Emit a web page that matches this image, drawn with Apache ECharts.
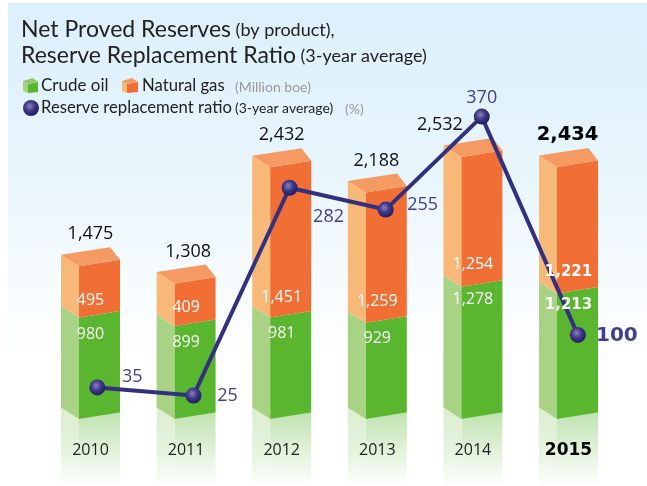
<!DOCTYPE html>
<html style="height: 100%">

<head>
	<meta charset="utf-8">
</head>

<body style="height: 100%; margin: 0; background: #fff">
	<div id="container" style="width: 647px; height: 486px"></div>
	<script type="text/javascript" src="https://cdn.jsdelivr.net/npm/echarts@6/dist/echarts.min.js"></script>
	<script type="text/javascript">
		let years = ['2010', '2011', '2012', '2013', '2014', '2015'];
		let crudeOil = [980, 899, 981, 929, 1278, 1213];
		let naturalGas = [495, 409, 1451, 1259, 1254, 1221];
		let replacementRatio = [35, 25, 282, 255, 370, 100];

		// label nudges, px, not data
		let ratioLabelOffset = [[35, -11], [34, 0], [39, 29], [37, -5], [0, -19], [39, 1]];
		let totalLabelShift = [0, 2, 0, -1, -33, -1];
		let oilLabelGap = [17, 16, 15.5, 16, 13, 12];
		let gasLabelGap = [17.5, 19, 20.5, 21, 22, 21];

		let fontName = 'Lato';
		let numFont = '"Open Sans"';
		let lineColor = '#33307f';
		let ratioText = '#423e91';
		let dy = 11.5, tilt = 6.5;

		let sphere = {
			type: 'radial', x: 0.42, y: 0.38, r: 0.62,
			colorStops: [
				{ offset: 0, color: '#8c83b8' },
				{ offset: 0.5, color: '#3f3888' },
				{ offset: 1, color: '#201c66' }
			]
		};

		function fade(color) {
			return {
				type: 'linear', x: 0, y: 0, x2: 0, y2: 1,
				colorStops: [
					{ offset: 0, color: color },
					{ offset: 0.6, color: '#e6f4e0' },
					{ offset: 1, color: '#ffffff' }
				]
			};
		}

		function poly(points, fill, z2) {
			return { type: 'polygon', z2: z2 || 1, shape: { points: points }, style: { fill: fill } };
		}

		// one stacked block of a pseudo 3d column. under is what sits below it
		function blockRenderer(values, under, front, side, isTop) {
			return function (params, api) {
				let i = params.dataIndex;
				let bottom = api.coord([i, under ? under[i] : 0]);
				let top = api.coord([i, (under ? under[i] : 0) + values[i]]);
				let w = api.size([1, 0])[0] * 0.617;
				let xl = bottom[0] - w * 0.5;
				let xf = xl + w * 0.305;
				let xr = xl + w;
				let kids = [
					poly([[xl, bottom[1] - dy], [xf, bottom[1]], [xf, top[1]], [xl, top[1] - dy]], side),
					poly([[xf, bottom[1]], [xr, bottom[1] - tilt], [xr, top[1] - tilt], [xf, top[1]]], front)
				];
				if (!under) {
					// floor reflection
					let floor = params.coordSys.y + params.coordSys.height + 67;
					kids.unshift(poly([[xl, bottom[1] - dy], [xf, bottom[1]], [xf, floor], [xl, floor]], fade('#dcedcf'), 0));
					kids.unshift(poly([[xf, bottom[1]], [xr, bottom[1] - tilt], [xr, floor], [xf, floor]], fade('#bfe3b0'), 0));
				}
				if (isTop) {
					let bold = i === years.length - 1;
					kids.push(poly([[xl, top[1] - dy], [xf, top[1]], [xr, top[1] - tilt], [xf + w * 0.53, top[1] - dy - 7.5]], '#f59a63', 2));
					kids.push({
						type: 'text', z2: 5,
						style: {
							x: bottom[0] + totalLabelShift[i], y: top[1] - dy - 7.5 - 13,
							text: (crudeOil[i] + naturalGas[i]).toLocaleString('en-US'),
							align: 'center', verticalAlign: 'middle',
							fill: bold ? '#000' : '#111',
							font: bold ? 'bold 19.5px "DejaVu Sans"' : '18px ' + numFont
						}
					});
				}
				return { type: 'group', children: kids };
			};
		}

		// white value labels sit over the ratio line
		function innerLabels(params, api) {
			let i = params.dataIndex;
			let split = api.coord([i, crudeOil[i]]);
			let bold = i === years.length - 1;
			let font = (bold ? 'bold 15px "DejaVu Sans"' : '16px ' + numFont);
			function lab(y, v) {
				return {
					type: 'text',
					style: {
						x: split[0], y: y, text: v.toLocaleString('en-US'),
						align: 'center', verticalAlign: 'middle', fill: '#fff', font: font
					}
				};
			}
			return {
				type: 'group',
				children: [lab(split[1] + oilLabelGap[i], crudeOil[i]), lab(split[1] - gasLabelGap[i], naturalGas[i])]
			};
		}

		function legendText(x, y, text, size, color) {
			return {
				type: 'text', x: x, y: y, z: 10,
				style: { text: text, fill: color || '#222', font: size + 'px ' + fontName, verticalAlign: 'middle' }
			};
		}

		let option = {
			animation: false,
			title: {
				left: 21, top: 17, padding: 0,
				text: '{a|Net Proved Reserves}{b| (by product),}\n{a|Reserve Replacement Ratio}{b| (3-year average)}',
				textStyle: {
					fontWeight: 'normal',
					rich: {
						a: { fontFamily: fontName, fontWeight: 'normal', fontSize: 23, color: '#222', lineHeight: 26 },
						b: { fontFamily: fontName, fontWeight: 'normal', fontSize: 18, color: '#222', lineHeight: 26 }
					}
				}
			},
			graphic: [
				{
					type: 'rect', z: -10, x: 8, y: 3,
					shape: { width: 639, height: 483 },
					style: {
						fill: {
							type: 'linear', x: 0, y: 0, x2: 0, y2: 1,
							colorStops: [
								{ offset: 0, color: '#dcf0fb' },
								{ offset: 0.35, color: '#e8f5fd' },
								{ offset: 0.6, color: '#f8fcff' },
								{ offset: 0.75, color: '#ffffff' }
							]
						}
					}
				},
				// legend cubes
				{ type: 'polygon', z: 10, shape: { points: [[23, 81], [28, 84], [28, 93], [23, 91]] }, style: { fill: '#a9d384' } },
				{ type: 'polygon', z: 10, shape: { points: [[28, 84], [38, 82], [38, 92], [28, 93]] }, style: { fill: '#5ab52f' } },
				{ type: 'polygon', z: 10, shape: { points: [[23, 81], [33, 78], [38, 82], [28, 84]] }, style: { fill: '#8ccb66' } },
				{ type: 'polygon', z: 10, shape: { points: [[122, 81], [127, 84], [127, 93], [122, 91]] }, style: { fill: '#f8b878' } },
				{ type: 'polygon', z: 10, shape: { points: [[127, 84], [138, 82], [138, 92], [127, 93]] }, style: { fill: '#f16f35' } },
				{ type: 'polygon', z: 10, shape: { points: [[122, 81], [132, 78], [138, 82], [127, 84]] }, style: { fill: '#f59a63' } },
				{ type: 'circle', z: 10, shape: { cx: 31, cy: 108, r: 8 }, style: { fill: sphere } },
				legendText(41, 86, 'Crude oil', 17),
				legendText(142, 86, 'Natural gas', 16.7),
				legendText(235, 87, '(Million boe)', 14, '#9a9a9a'),
				legendText(41, 108, 'Reserve replacement ratio', 16.7),
				legendText(235, 108, '(3-year average)', 14),
				legendText(345, 109, '(%)', 14, '#9a9a9a')
			],
			grid: [
				{ left: 42.7, width: 573.6, top: 5, height: 414 },
				{ left: 49.3, width: 576.6, top: 5, height: 414 }
			],
			xAxis: [
				{
					type: 'category', gridIndex: 0, data: years, z: 6,
					axisLine: { show: false }, axisTick: { show: false },
					axisLabel: {
						margin: 23, interval: 0,
						formatter: function (v, i) {
							return i === years.length - 1 ? '{hi|' + v + '}' : '{n|' + v + '}';
						},
						rich: {
							n: { fontFamily: numFont, fontSize: 16, color: '#222' },
							hi: { fontFamily: 'DejaVu Sans', fontWeight: 'bold', fontSize: 17, color: '#000' }
						}
					}
				},
				{ type: 'category', gridIndex: 1, data: years, show: false }
			],
			yAxis: [
				{ type: 'value', gridIndex: 0, min: 0, max: 4000, show: false },
				{ type: 'value', gridIndex: 1, min: -4, max: 508, show: false }
			],
			series: [
				{
					name: 'Crude oil', type: 'custom', xAxisIndex: 0, yAxisIndex: 0, z: 2,
					renderItem: blockRenderer(crudeOil, null, '#5ab52f', '#a9d384', false),
					data: crudeOil
				},
				{
					name: 'Natural gas', type: 'custom', xAxisIndex: 0, yAxisIndex: 0, z: 3,
					renderItem: blockRenderer(naturalGas, crudeOil, '#f16f35', '#f8b878', true),
					data: naturalGas
				},
				{
					name: 'Reserve replacement ratio', type: 'line', xAxisIndex: 1, yAxisIndex: 1, z: 8,
					symbol: 'circle', symbolSize: 16,
					lineStyle: { color: lineColor, width: 4 },
					itemStyle: { color: sphere },
					data: replacementRatio.map(function (v, i) {
						let last = i === replacementRatio.length - 1;
						return {
							value: v,
							label: {
								show: true, position: 'inside', offset: ratioLabelOffset[i],
								color: ratioText, formatter: '{c}',
								fontFamily: last ? 'DejaVu Sans' : numFont,
								fontWeight: last ? 'bold' : 'normal',
								fontSize: last ? 20 : 18
							}
						};
					})
				},
				{
					name: 'Values', type: 'custom', xAxisIndex: 0, yAxisIndex: 0, z: 9,
					renderItem: innerLabels,
					data: crudeOil
				}
			]
		};

		let myChart = echarts.init(document.getElementById('container'));
		myChart.setOption(option);
	</script>
</body>

</html>
